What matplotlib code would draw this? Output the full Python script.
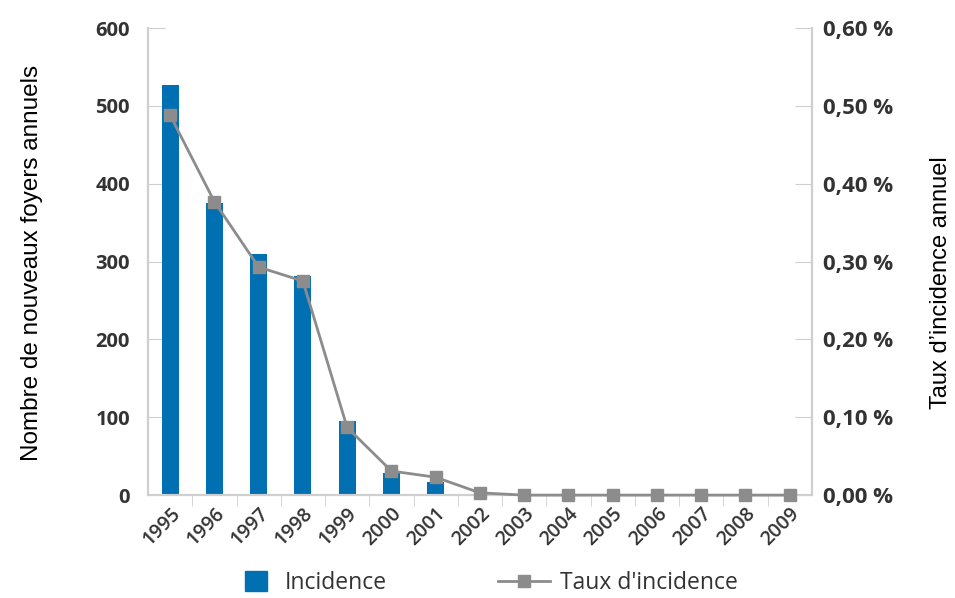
import matplotlib
matplotlib.use("Agg")
import matplotlib.pyplot as plt
from matplotlib.ticker import FuncFormatter, FixedLocator
from matplotlib.lines import Line2D
from matplotlib.patches import Patch

years = ["1995", "1996", "1997", "1998", "1999", "2000", "2001", "2002",
         "2003", "2004", "2005", "2006", "2007", "2008", "2009"]
incidence = [527, 375, 310, 282, 95, 28, 17, 0, 0, 0, 0, 0, 0, 0, 0]
taux = [0.488, 0.377, 0.293, 0.275, 0.087, 0.031, 0.023, 0.003,
        0.0, 0.0, 0.0, 0.0, 0.0, 0.0, 0.0]

BLUE = "#0070b2"
GRAY = "#8c8c8c"
SPINE = "#cfcfcf"
TXT = "#333333"

plt.rcParams['font.family'] = ['Open Sans', 'DejaVu Sans']

W, H = 955, 598
fig = plt.figure(figsize=(W / 100, H / 100), dpi=100)
ax = fig.add_axes([0.155, 0.172, 0.695, 0.781])
x = list(range(len(years)))
ax.bar(x, incidence, width=0.38, color=BLUE, zorder=2)
ax.set_xlim(-0.5, len(years) - 0.5)
ax.set_ylim(0, 600)
ax.set_yticks(range(0, 601, 100))
ax.tick_params(axis='y', direction='in', length=12, color=SPINE, labelsize=14.5,
               labelcolor=TXT, pad=13)
for lab in ax.get_yticklabels():
    lab.set_fontweight('bold')
ax.set_xticks(x)
ax.set_xticklabels(years, rotation=45, ha='right', rotation_mode='anchor',
                   fontsize=14, color=TXT, fontweight='semibold')
ax.tick_params(axis='x', length=0, pad=6)
ax.xaxis.set_minor_locator(FixedLocator([i + 0.5 for i in x[:-1]]))
ax.tick_params(axis='x', which='minor', direction='out', length=8, color=SPINE)
ax.spines['top'].set_visible(False)
for s in ['left', 'bottom', 'right']:
    ax.spines[s].set_color(SPINE)
    ax.spines[s].set_linewidth(1.5)

ax2 = ax.twinx()
ax2.plot(x, taux, color=GRAY, lw=2, marker='s', markersize=9,
         markerfacecolor=GRAY, markeredgecolor=GRAY, zorder=3, clip_on=False)
ax2.set_ylim(0, 0.6)
ax2.set_yticks([i / 10 for i in range(7)])
ax2.yaxis.set_major_formatter(FuncFormatter(lambda v, p: f"{v:.2f} %".replace('.', ',')))
ax2.tick_params(axis='y', direction='in', length=12, color=SPINE, labelsize=16,
                labelcolor=TXT, pad=8)
for lab in ax2.get_yticklabels():
    lab.set_fontweight('bold')
ax2.spines['top'].set_visible(False)
for s in ['left', 'bottom', 'right']:
    ax2.spines[s].set_color(SPINE)
    ax2.spines[s].set_linewidth(1.5)

fig.text(0.033, 0.56, "Nombre de nouveaux foyers annuels", rotation=90,
         ha='center', va='center', fontsize=17.5, color='black',
         family=['Liberation Sans', 'DejaVu Sans'])
fig.text(0.985, 0.527, "Taux d\u2019incidence annuel", rotation=90,
         ha='center', va='center', fontsize=17, color='black',
         family=['Liberation Sans', 'DejaVu Sans'])

FS = 16.5
em = FS * 100 / 72.0
LEG_Y = 1 - 583 / H
leg1 = fig.legend([Patch(facecolor=BLUE, edgecolor=BLUE)], ["Incidence"],
                  loc='center left', bbox_to_anchor=(245 / W, LEG_Y),
                  frameon=False, fontsize=FS, borderpad=0, borderaxespad=0,
                  handlelength=22 / em, handleheight=22 / em,
                  handletextpad=(285 - 267) / em, labelcolor=TXT)
leg2 = fig.legend([Line2D([0], [0], color=GRAY, lw=2, marker='s', markersize=8)],
                  ["Taux d'incidence"],
                  loc='center left', bbox_to_anchor=(498 / W, LEG_Y),
                  frameon=False, fontsize=FS, borderpad=0, borderaxespad=0,
                  handlelength=52 / em, handletextpad=(560 - 550) / em,
                  labelcolor=TXT)

fig.savefig("out.png", dpi=100)
